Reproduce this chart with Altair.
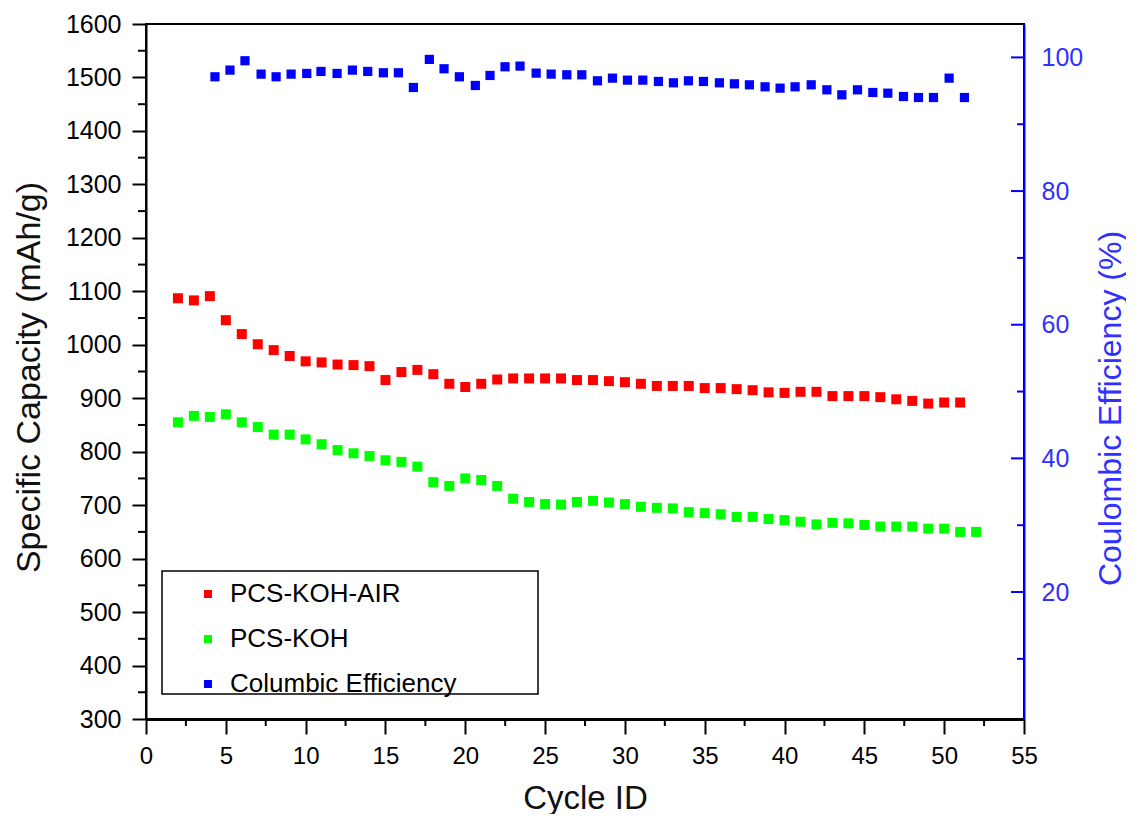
import altair as alt
import pandas as pd

# ---------------- data ----------------
series_names = ["PCS-KOH-AIR", "PCS-KOH", "Columbic Efficiency"]
series_colors = ["#ff0000", "#00ff00", "#0000ff"]

air_cycles = list(range(2, 52))
air_capacity = [1087, 1083, 1091, 1046, 1020, 1001, 990, 979, 969, 967,
                963, 962, 960, 934, 949, 953, 945, 927, 921, 927,
                935, 937, 937, 937, 937, 934, 934, 932, 930, 927,
                923, 923, 923, 919, 919, 917, 915, 911, 910, 912,
                912, 904, 904, 904, 902, 898, 895, 890, 892, 892]

koh_cycles = list(range(2, 53))
koh_capacity = [855, 867, 865, 870, 855, 846, 832, 832, 823, 814,
                803, 797, 792, 784, 781, 772, 743, 736, 750, 747,
                736, 712, 706, 702, 701, 706, 708, 705, 702, 697,
                695, 694, 687, 685, 683, 678, 678, 674, 672, 669,
                664, 667, 666, 663, 660, 660, 660, 656, 656, 650, 650]

eff_cycles = [4.32, 5.26, 6.2, 7.21, 8.15, 9.09, 10.07, 10.96, 11.97, 12.93,
              13.89, 14.87, 15.81, 16.75, 17.75, 18.67, 19.63, 20.63, 21.55, 22.49,
              23.43, 24.44, 25.38, 26.36, 27.3, 28.28, 29.22, 30.16, 31.12, 32.1,
              33.04, 33.98, 34.92, 35.92, 36.86, 37.8, 38.78, 39.72, 40.66, 41.67,
              42.65, 43.59, 44.57, 45.53, 46.47, 47.45, 48.39, 49.33, 50.31, 51.27]
eff_values = [97.1, 98.1, 99.5, 97.5, 97.1, 97.5, 97.6, 97.9, 97.6, 98.1,
              97.9, 97.7, 97.7, 95.5, 99.7, 98.3, 97.1, 95.8, 97.3, 98.6,
              98.7, 97.65, 97.5, 97.4, 97.4, 96.5, 96.9, 96.6, 96.6, 96.4,
              96.2, 96.5, 96.4, 96.2, 96.05, 95.9, 95.6, 95.4, 95.6, 95.9,
              95.15, 94.4, 95.15, 94.75, 94.65, 94.15, 94.0, 94.0, 96.9, 94.0]

x_ticks = list(range(0, 56, 5))
x_minor_ticks = [2.5, 7.5, 12.5, 17.5, 22.5, 27.5, 32.5, 37.5, 42.5, 47.5, 52.5]
left_ticks = list(range(300, 1601, 100))
left_minor_ticks = list(range(350, 1600, 100))
right_ticks = [20, 40, 60, 80, 100]
right_minor_ticks = [10, 30, 50, 70, 90]

cap_df = pd.DataFrame({
    "cycle": air_cycles + koh_cycles,
    "value": air_capacity + koh_capacity,
    "series": [series_names[0]] * len(air_cycles) + [series_names[1]] * len(koh_cycles),
})
eff_df = pd.DataFrame({"cycle": eff_cycles, "eff": eff_values,
                       "series": [series_names[2]] * len(eff_cycles)})

W, H = 878, 695
FONT = "Liberation Sans"

color_scale = alt.Scale(domain=series_names, range=series_colors)
legend = alt.Legend(
    title=None, orient="none", legendX=49, legendY=557,
    symbolType="square", symbolSize=64, symbolStrokeWidth=0, symbolOpacity=1,
    labelFontSize=26, labelFont=FONT, labelColor="#000000", labelLimit=500,
    labelOffset=9, rowPadding=19, padding=0,
)
color_enc = alt.Color("series:N", scale=color_scale, legend=legend)

x_scale = alt.Scale(domain=[0, 55], nice=False, zero=False)
x_axis = alt.Axis(
    values=x_ticks, title="Cycle ID", grid=False, format="d",
    domainColor="#000000", domainWidth=3,
    tickColor="#000000", tickWidth=2, tickSize=15,
    labelFontSize=24, labelFont=FONT, labelColor="#000000", labelPadding=10,
    titleFontSize=33, titleFont=FONT, titleFontWeight="normal",
    titleColor="#111111", titlePadding=14, labelFlush=False,
)
x_enc = alt.X("cycle:Q", scale=x_scale, axis=x_axis)

left_scale = alt.Scale(domain=[300, 1600], nice=False, zero=False)
right_scale = alt.Scale(domain=[1, 105], nice=False, zero=False)

left_axis = alt.Axis(
    orient="left", values=left_ticks, title="Specific Capacity (mAh/g)",
    grid=False, format="d", domainColor="#000000", domainWidth=2,
    tickColor="#000000", tickWidth=2, tickSize=14,
    labelFontSize=25, labelFont=FONT, labelColor="#000000", labelPadding=11,
    titleFontSize=34, titleFont=FONT, titleFontWeight="normal",
    titleBaseline="middle", titleX=-117, titleY=353,
    titleColor="#111111", labelFlush=False,
)
right_axis = alt.Axis(
    orient="right", values=right_ticks, title="Coulombic Efficiency (%)",
    grid=False, format="d", domainColor="#0000ff", domainWidth=2,
    ticks=True, tickSize=0, tickColor="#0000ff",
    labelFontSize=25, labelFont=FONT, labelColor="#3030ff", labelPadding=17,
    titleFontSize=32, titleFont=FONT, titleFontWeight="normal", titleAngle=270,
    titleBaseline="middle", titleX=86, titleY=384,
    titleColor="#3030ff", labelFlush=False,
)

cap_points = alt.Chart(cap_df).mark_square(size=100, opacity=1).encode(
    x=x_enc,
    y=alt.Y("value:Q", scale=left_scale, axis=left_axis),
    color=color_enc,
)

left_minor = alt.Chart(pd.DataFrame({"value": left_minor_ticks})).mark_rule(
    color="#000000", strokeWidth=2
).encode(
    y=alt.Y("value:Q", scale=left_scale, axis=left_axis),
    x=alt.value(-8), x2=alt.value(0),
)

x_minor = alt.Chart(pd.DataFrame({"cycle": x_minor_ticks})).mark_rule(
    color="#000000", strokeWidth=2
).encode(
    x=x_enc,
    y=alt.value(H), y2=alt.value(H + 7),
)

legend_box = alt.Chart(pd.DataFrame({"box": [1]})).mark_rect(
    fill="#ffffff", fillOpacity=0, stroke="#000000", strokeWidth=1.5
).encode(
    x=alt.value(16), x2=alt.value(392), y=alt.value(547), y2=alt.value(670),
)

left_layer = alt.layer(legend_box, cap_points, left_minor, x_minor)

eff_points = alt.Chart(eff_df).mark_square(size=85, opacity=1).encode(
    x=x_enc,
    y=alt.Y("eff:Q", scale=right_scale, axis=right_axis),
    color=color_enc,
)

right_major = alt.Chart(pd.DataFrame({"eff": right_ticks})).mark_rule(
    color="#0000ff", strokeWidth=2
).encode(
    y=alt.Y("eff:Q", scale=right_scale, axis=right_axis),
    x=alt.value(W - 13), x2=alt.value(W),
)
right_minor = alt.Chart(pd.DataFrame({"eff": right_minor_ticks})).mark_rule(
    color="#0000ff", strokeWidth=2
).encode(
    y=alt.Y("eff:Q", scale=right_scale, axis=right_axis),
    x=alt.value(W - 7), x2=alt.value(W),
)

right_layer = alt.layer(eff_points, right_major, right_minor)

chart = alt.layer(left_layer, right_layer).resolve_scale(
    y="independent"
).properties(
    width=W, height=H,
    autosize=alt.AutoSizeParams(type="none"),
    padding={"left": 138, "top": 16, "right": 102, "bottom": 95},
    background="#ffffff",
).configure_view(
    stroke="#000000", strokeWidth=2
)

chart.save("out.html", embed_options={"renderer": "svg", "actions": False})
